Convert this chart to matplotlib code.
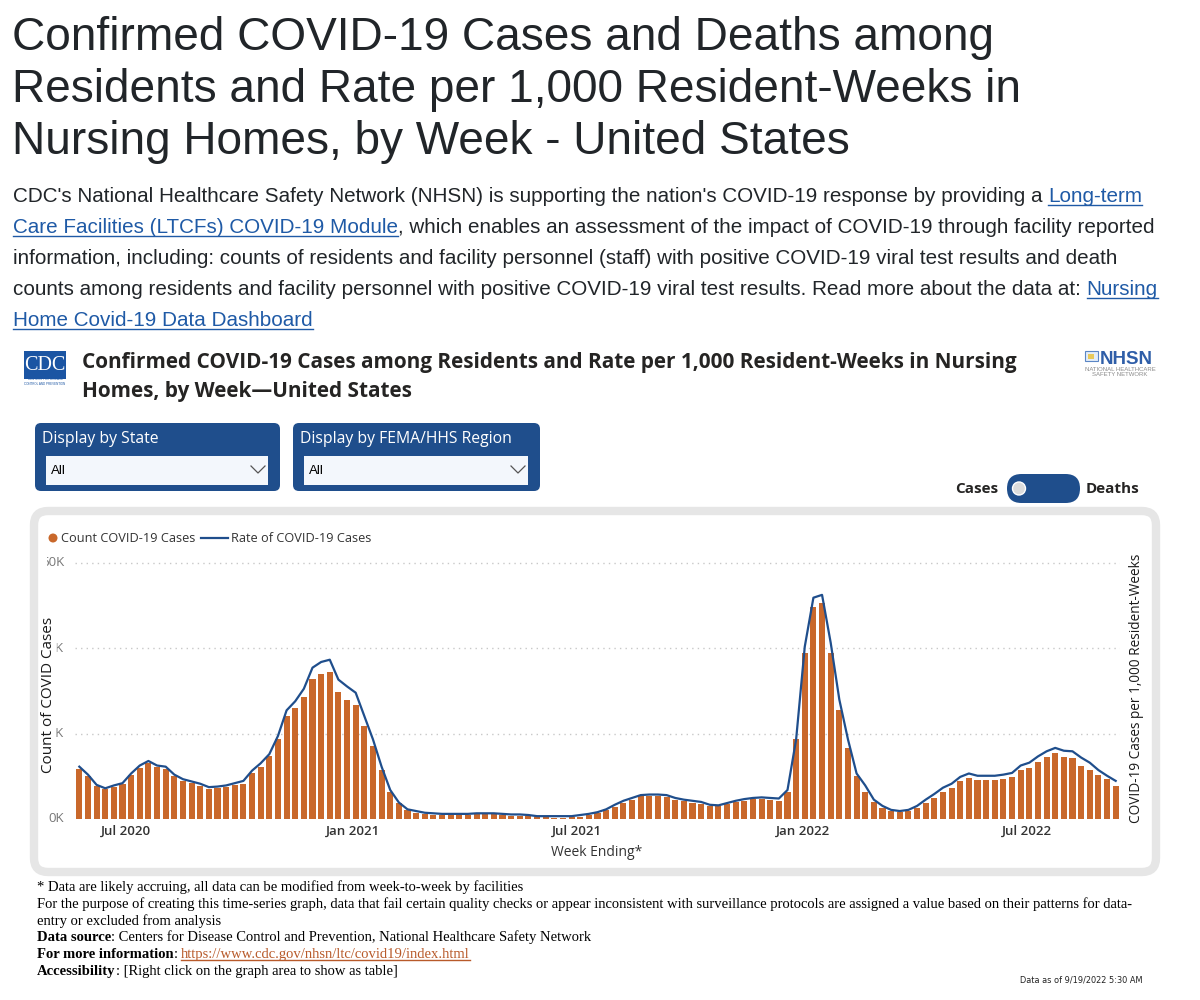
import matplotlib
matplotlib.use('Agg')
import matplotlib.pyplot as plt
import pandas as pd
from matplotlib.patches import FancyBboxPatch, Rectangle, Circle
from matplotlib.transforms import Bbox

# ---------------- data ----------------
week_ending = pd.date_range('2020-05-24', periods=121, freq='7D')

cases_k = [
    11.7, 10.1, 7.8, 7.1, 7.6, 8.2, 10.3, 11.9, 13.1, 12.1,
    11.8, 10.0, 8.9, 8.4, 7.8, 7.0, 7.3, 7.4, 7.9, 8.3,
    10.7, 12.3, 14.7, 18.7, 24.1, 26.0, 28.6, 32.9, 34.0, 34.4,
    29.7, 27.9, 26.7, 21.7, 17.2, 11.4, 6.4, 3.8, 2.1, 1.5,
    1.2, 0.9, 0.9, 0.9, 0.9, 0.9, 1.1, 1.1, 1.1, 1.0,
    0.8, 0.7, 0.7, 0.5, 0.4, 0.3, 0.3, 0.4, 0.55, 0.9,
    1.3, 2.1, 2.9, 3.8, 4.5, 5.3, 5.3, 5.3, 5.1, 4.5,
    4.2, 3.8, 3.5, 3.1, 3.1, 3.5, 4.0, 4.3, 4.6, 4.6,
    4.5, 4.3, 6.4, 18.7, 39.0, 49.8, 50.6, 38.8, 25.6, 16.6,
    10.1, 6.4, 4.0, 2.6, 1.9, 1.7, 1.9, 2.6, 3.8, 4.9,
    6.4, 7.3, 8.9, 9.6, 9.2, 9.2, 9.2, 9.4, 9.9, 11.5,
    12.0, 13.4, 14.6, 15.5, 14.6, 14.4, 12.4, 11.4, 10.4, 9.4,
    7.8]

rate_per_1000 = [
    9.2, 7.8, 6.0, 5.4, 5.9, 6.3, 8.0, 9.4, 10.2, 9.4,
    9.2, 7.8, 7.0, 6.6, 6.2, 5.6, 5.7, 5.9, 6.3, 6.7,
    8.5, 9.8, 11.4, 14.6, 19.1, 20.7, 22.9, 26.6, 27.6, 28.0,
    24.5, 23.3, 22.2, 18.1, 14.0, 9.2, 5.1, 2.9, 1.7, 1.4,
    1.1, 1.0, 0.9, 0.9, 0.9, 0.9, 1.0, 1.0, 1.0, 0.9,
    0.8, 0.8, 0.7, 0.5, 0.5, 0.5, 0.5, 0.5, 0.7, 0.9,
    1.2, 1.7, 2.5, 3.2, 3.7, 4.2, 4.3, 4.3, 4.2, 3.7,
    3.4, 3.2, 3.0, 2.5, 2.4, 2.8, 3.2, 3.5, 3.7, 3.8,
    3.7, 3.6, 5.1, 14.0, 30.3, 38.9, 39.4, 31.0, 21.0, 14.0,
    8.0, 5.9, 3.4, 2.3, 1.6, 1.4, 1.6, 2.3, 3.4, 4.4,
    5.5, 6.2, 7.4, 8.0, 7.6, 7.6, 7.6, 7.8, 8.1, 9.4,
    9.9, 11.0, 11.9, 12.5, 12.0, 11.9, 10.8, 9.9, 8.6, 7.6,
    6.7]

y_ticks_k = [0, 20, 40, 60]
y_tick_labels = ['0K', '20K', '40K', '60K']
x_tick_dates = pd.to_datetime(['2020-07-01', '2021-01-01', '2021-07-01', '2022-01-01', '2022-07-01'])
x_tick_labels = ['Jul 2020', 'Jan 2021', 'Jul 2021', 'Jan 2022', 'Jul 2022']

# ---------------- styles ----------------
ORANGE = '#c9682b'
NAVY = '#1f4e8c'
TXT = '#212529'
LINK = '#1f5aa6'
LINK_FOOT = '#b85a2a'
UI = 'Open Sans'
SANS = 'Liberation Sans'
SERIF = 'Liberation Serif'

fig = plt.figure(figsize=(12, 10), dpi=100)
bg = fig.add_axes([0, 0, 1, 1])
bg.set_xlim(0, 1200)
bg.set_ylim(1000, 0)
bg.set_autoscale_on(False)
bg.axis('off')
bg.set_zorder(0)
renderer = fig.canvas.get_renderer()


def runs(x, y, parts, size, family, color=TXT, link_color=LINK, ul=3):
    for txt, kind in parts:
        c = link_color if kind == 'link' else color
        w8 = 'bold' if kind == 'bold' else 'normal'
        t = bg.text(x, y, txt, fontsize=size, family=family, color=c,
                    weight=w8, va='baseline', ha='left')
        w = t.get_window_extent(renderer).width
        if kind == 'link':
            bg.plot([x, x + w], [y + ul, y + ul], color=c, lw=1.0)
        x += w


# ---------------- page title ----------------
title_lines = ['Confirmed COVID-19 Cases and Deaths among',
               'Residents and Rate per 1,000 Resident-Weeks in',
               'Nursing Homes, by Week - United States']
for i, ln in enumerate(title_lines):
    bg.text(12, 50 + 52 * i, ln, fontsize=33.1, family=SANS, color=TXT, va='baseline')

para = [
    [("CDC's National Healthcare Safety Network (NHSN) is supporting the nation's COVID-19 response by providing a ", 'n'),
     ('Long-term', 'link')],
    [('Care Facilities (LTCFs) COVID-19 Module', 'link'),
     (', which enables an assessment of the impact of COVID-19 through facility reported', 'n')],
    [('information, including: counts of residents and facility personnel (staff) with positive COVID-19 viral test results and death', 'n')],
    [('counts among residents and facility personnel with positive COVID-19 viral test results. Read more about the data at: ', 'n'),
     ('Nursing', 'link')],
    [('Home Covid-19 Data Dashboard', 'link')],
]
for i, p in enumerate(para):
    runs(13, 202 + 31 * i, p, 14.82, SANS)

# ---------------- dashboard header ----------------
bg.add_patch(Rectangle((24, 351), 42, 28, fc='#1b55a3', ec='none'))
bg.text(45, 366, 'CDC', fontsize=14.5, family=SERIF, color='white', ha='center', va='center')
bg.text(45, 381.5, 'CENTERS FOR DISEASE\nCONTROL AND PREVENTION', fontsize=2.2, family=SANS,
        color='#1b55a3', ha='center', va='center', linespacing=1.1)

bg.text(82, 368, 'Confirmed COVID-19 Cases among Residents and Rate per 1,000 Resident-Weeks in Nursing',
        fontsize=14.98, family=UI, weight='bold', color='#252423', va='baseline')
bg.text(82, 397, 'Homes, by Week\u2014United States',
        fontsize=14.98, family=UI, weight='bold', color='#252423', va='baseline')

# NHSN logo
bg.add_patch(Rectangle((1085, 351), 13, 10, fc='#e3edf8', ec='#5b86c5', lw=0.8))
bg.add_patch(Rectangle((1088, 354), 6, 5, fc='#e8c95a', ec='none'))
bg.text(1100, 364, 'NHSN', fontsize=13.5, family=SANS, weight='bold', color='#2f5ea8', va='baseline')
bg.text(1120, 369.5, 'NATIONAL HEALTHCARE', fontsize=4.3, family=SANS, color='#8a8a8a', ha='center', va='center')
bg.text(1120, 375, 'SAFETY NETWORK', fontsize=4.3, family=SANS, color='#8a8a8a', ha='center', va='center')

# ---------------- slicers ----------------
for x0, w, label in [(35, 245, 'Display by State'), (293, 247, 'Display by FEMA/HHS Region')]:
    bg.add_patch(FancyBboxPatch((x0, 423), w, 68, boxstyle='round,pad=0,rounding_size=6',
                                fc=NAVY, ec='none'))
    bg.text(x0 + 7, 443, label, fontsize=11.3, family=UI, color='white', va='baseline')
    bg.add_patch(Rectangle((x0 + 11, 456), w - 23, 29, fc='#f3f7fc', ec='none'))
    bg.text(x0 + 16, 471, 'All', fontsize=9.5, family=SANS, color='black', va='center')
    cx = x0 + w - 22
    bg.plot([cx - 7, cx, cx + 7], [466, 473, 466], color='#555555', lw=0.9)

# toggle
bg.text(998, 489, 'Cases', fontsize=11, family=UI, weight='bold', color='#252423', ha='right', va='center')
bg.add_patch(FancyBboxPatch((1007, 474), 73, 29, boxstyle='round,pad=0,rounding_size=14.5',
                            fc=NAVY, ec='none'))
bg.add_patch(Circle((1019, 488.5), 6.5, fc='#dcdcdc', ec='white', lw=1))
bg.text(1086, 489, 'Deaths', fontsize=11, family=UI, weight='bold', color='#252423', ha='left', va='center')

# chart card
bg.add_patch(FancyBboxPatch((34, 511), 1122, 361, boxstyle='round,pad=0,rounding_size=14',
                            fc='white', ec='#e6e6e6', lw=6))

# legend
bg.add_patch(Circle((53, 538), 4.5, fc=ORANGE, ec='none'))
bg.text(61, 538, 'Count COVID-19 Cases', fontsize=9.2, family=UI, color='#333333', va='center')
bg.plot([201, 228], [538, 538], color=NAVY, lw=1.6)
bg.text(231, 538, 'Rate of COVID-19 Cases', fontsize=9.2, family=UI, color='#333333', va='center')

# ---------------- chart ----------------
ax = fig.add_axes([75 / 1200, 1 - 819 / 1000, 1045 / 1200, 262.4 / 1000])
ax.set_zorder(2)
ax.patch.set_visible(False)
half = pd.Timedelta(days=3.5)
ax.set_xlim(week_ending[0] - half, week_ending[-1] + half)
ax.set_ylim(0, 61.5)
for gy in y_ticks_k[1:]:
    ax.axhline(gy, color='#c8c8c8', lw=1, linestyle=(0, (1, 3)), zorder=0)
ax.bar(week_ending, cases_k, width=5.0, color=ORANGE, zorder=2)
for s in ax.spines.values():
    s.set_visible(False)
ax.set_yticks([])
ax.set_xticks(x_tick_dates, x_tick_labels)
ax.tick_params(axis='x', length=0, pad=4, labelsize=9.5, labelcolor='#333333')
for lab in ax.get_xticklabels():
    lab.set_family(UI)
    lab.set_weight('semibold')

ax2 = ax.twinx()
ax2.set_zorder(3)
ax2.patch.set_visible(False)
ax2.set_ylim(0, 61.5 * 0.75)
ax2.plot(week_ending, rate_per_1000, color=NAVY, lw=1.6)
ax2.set_yticks([])
for s in ax2.spines.values():
    s.set_visible(False)

# y tick labels (clipped at the left, as in the dashboard)
clip = Bbox.from_extents(47, 0, 1200, 1000)
for v, lab in zip(y_ticks_k, y_tick_labels):
    ydisp = ax.transData.transform((0, v))[1]
    t = bg.text(64, 1000 - ydisp, lab, fontsize=9.5, family=UI, color='#777777',
                ha='right', va='center', clip_on=True)
    t.set_clip_box(clip)

bg.text(49, 695, 'Count of COVID Cases', fontsize=11, family=UI, color='#1a1a1a',
        rotation=90, ha='center', va='center',
        bbox=dict(boxstyle='square,pad=0.0', fc='white', ec='none'))
bg.text(1137, 688, 'COVID-19 Cases per 1,000 Resident-Weeks', fontsize=9.8, family=UI, color='#1a1a1a',
        rotation=90, ha='center', va='center')
bg.text(597, 853, 'Week Ending*', fontsize=10, family=UI, color='#333333', ha='center', va='center')

# ---------------- footnotes ----------------
foot = [
    [('* Data are likely accruing, all data can be modified from week-to-week by facilities', 'n')],
    [('For the purpose of creating this time-series graph, data that fail certain quality checks or appear inconsistent with surveillance protocols are assigned a value based on their patterns for data-', 'n')],
    [('entry or excluded from analysis', 'n')],
    [('Data source', 'bold'), (': Centers for Disease Control and Prevention, National Healthcare Safety Network', 'n')],
    [('For more information', 'bold'), (': ', 'n'), ('https://www.cdc.gov/nhsn/ltc/covid19/index.html', 'link')],
    [('Accessibility', 'bold'), (': [Right click on the graph area to show as table]', 'n')],
]
for i, p in enumerate(foot):
    runs(37, 891 + 16.8 * i, p, 10.5, SERIF, color='black', link_color=LINK_FOOT, ul=2)

bg.text(1142, 980, 'Data as of 9/19/2022 5:30 AM', fontsize=6.6, family='DejaVu Sans',
        fontstretch='condensed', color='#222222', ha='right', va='center')

fig.savefig('out.png', dpi=100)
